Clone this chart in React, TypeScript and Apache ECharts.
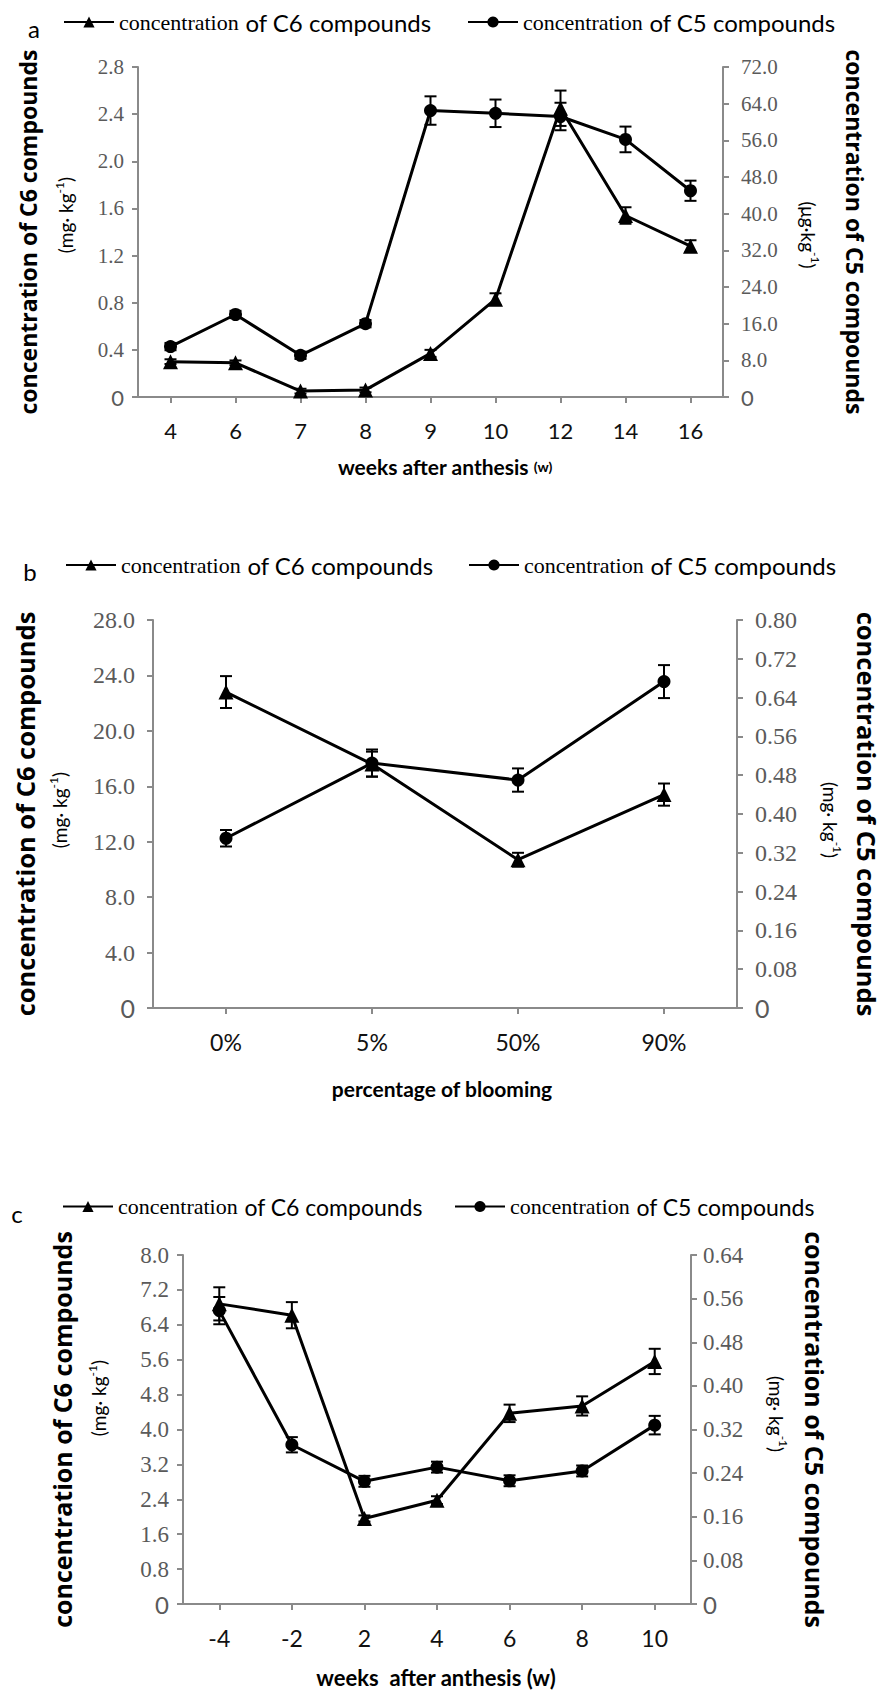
import React, { useEffect, useRef } from "react";
import * as echarts from "echarts";

// ---------- data ----------
const aWeeks = ["4", "6", "7", "8", "9", "10", "12", "14", "16"];
const aC6 = [0.3, 0.29, 0.05, 0.06, 0.37, 0.83, 2.45, 1.54, 1.28];
const aC6Err = [0.02, 0.02, 0.02, 0.02, 0.03, 0.05, 0.15, 0.07, 0.05];
const aC5 = [11.0, 18.0, 9.1, 16.0, 62.5, 61.9, 61.2, 56.2, 45.0];
const aC5Err = [0.8, 0.8, 0.8, 0.8, 3.1, 3.0, 3.0, 2.8, 2.2];

const bCats = ["0%", "5%", "50%", "90%"];
const bC6 = [22.8, 17.6, 10.7, 15.4];
const bC6Err = [1.15, 0.9, 0.5, 0.8];
const bC5 = [0.35, 0.505, 0.47, 0.673];
const bC5Err = [0.017, 0.028, 0.024, 0.034];

const cWeeks = ["-4", "-2", "2", "4", "6", "8", "10"];
const cC6 = [6.88, 6.62, 1.96, 2.38, 4.37, 4.54, 5.56];
const cC6Err = [0.38, 0.3, 0.07, 0.09, 0.2, 0.22, 0.29];
const cC5 = [0.538, 0.292, 0.225, 0.251, 0.226, 0.244, 0.328];
const cC5Err = [0.025, 0.014, 0.01, 0.01, 0.01, 0.01, 0.017];

const SERIF = '"Liberation Serif", "Times New Roman", serif';
const SANS = 'Lato, "Open Sans", sans-serif';
const BOLD = '"Open Sans", sans-serif';
const AXIS = "#8a8a8a";
const LABEL = "#5a5a5a";

type Panel = {
  key: string;
  letter: string;
  cats: string[];
  c6: number[];
  c6e: number[];
  c5: number[];
  c5e: number[];
  left: number;
  right: number;
  top: number;
  bottom: number;
  lMax: number;
  lInt: number;
  lDec: number;
  rMax: number;
  rInt: number;
  rDec: number;
  yFont: number;
  xFont: number;
  xMargin: number;
  lMargin: number;
  rMargin: number;
  legY: number;
  letterX: number;
  leg1X: number;
  leg2X: number;
  legFontS: number;
  legFontN: number;
  titleFont: number;
  lTitleX: number;
  lUnitX: number;
  rUnitX: number;
  rTitleX: number;
  lUnit: string;
  rUnit: string;
  lUnitY: number;
  rUnitY: number;
  xTitle: string;
  xTitleX: number;
  xTitleY: number;
  xTitleFont: number;
};

const panels: Panel[] = [
  {
    key: "a", letter: "a", cats: aWeeks, c6: aC6, c6e: aC6Err, c5: aC5, c5e: aC5Err,
    left: 138, right: 723, top: 67, bottom: 397,
    lMax: 2.8, lInt: 0.4, lDec: 1, rMax: 72, rInt: 8, rDec: 1,
    yFont: 21, xFont: 22, xMargin: 22, lMargin: 14, rMargin: 18,
    legY: 20, letterX: 34, leg1X: 58, leg2X: 462, legFontS: 22, legFontN: 24,
    titleFont: 23, lTitleX: 28, lUnitX: 64, rUnitX: 810, rTitleX: 855,
    lUnit: "{n|(mg· kg}{s|-1}{n|)}", rUnit: "{n|(μg·kg}{s|-1}{n|)}",
    lUnitY: 215, rUnitY: 235,
    xTitle: "{t|weeks after anthesis }{w|(w)}", xTitleX: 445, xTitleY: 466, xTitleFont: 21,
  },
  {
    key: "b", letter: "b", cats: bCats, c6: bC6, c6e: bC6Err, c5: bC5, c5e: bC5Err,
    left: 153, right: 737, top: 620, bottom: 1008,
    lMax: 28, lInt: 4, lDec: 1, rMax: 0.8, rInt: 0.08, rDec: 2,
    yFont: 24, xFont: 23, xMargin: 22, lMargin: 18, rMargin: 18,
    legY: 563, letterX: 30, leg1X: 60, leg2X: 463, legFontS: 22, legFontN: 24,
    titleFont: 25.5, lTitleX: 25, lUnitX: 58, rUnitX: 832, rTitleX: 867,
    lUnit: "{n|(mg· kg}{s|-1}{n|)}", rUnit: "{n|(mg· kg}{s|-1}{n|)}",
    lUnitY: 810, rUnitY: 820,
    xTitle: "{t|percentage of blooming}", xTitleX: 442, xTitleY: 1088, xTitleFont: 21,
  },
  {
    key: "c", letter: "c", cats: cWeeks, c6: cC6, c6e: cC6Err, c5: cC5, c5e: cC5Err,
    left: 183, right: 691, top: 1255, bottom: 1604,
    lMax: 8, lInt: 0.8, lDec: 1, rMax: 0.64, rInt: 0.08, rDec: 2,
    yFont: 23, xFont: 23, xMargin: 22, lMargin: 14, rMargin: 12,
    legY: 1205, letterX: 17, leg1X: 57, leg2X: 449, legFontS: 22, legFontN: 23,
    titleFont: 25, lTitleX: 62, lUnitX: 97, rUnitX: 778, rTitleX: 815,
    lUnit: "{n|(mg· kg}{s|-1}{n|)}", rUnit: "{n|(mg· kg}{s|-1}{n|)}",
    lUnitY: 1398, rUnitY: 1414,
    xTitle: "{t|weeks  after anthesis (w)}", xTitleX: 436, xTitleY: 1677, xTitleFont: 22,
  },
];

function errRender(params: any, api: any) {
  const i = api.value(0);
  const v = api.value(1);
  const e = api.value(2);
  const p1 = api.coord([i, v + e]);
  const p2 = api.coord([i, v - e]);
  const w = 6;
  const style = { stroke: "#000", lineWidth: 2 };
  return {
    type: "group",
    children: [
      { type: "line", shape: { x1: p1[0], y1: p1[1], x2: p2[0], y2: p2[1] }, style },
      { type: "line", shape: { x1: p1[0] - w, y1: p1[1], x2: p1[0] + w, y2: p1[1] }, style },
      { type: "line", shape: { x1: p2[0] - w, y1: p2[1], x2: p2[0] + w, y2: p2[1] }, style },
    ],
  };
}

function buildOption() {
  const grid: any[] = [];
  const xAxis: any[] = [];
  const yAxis: any[] = [];
  const series: any[] = [];
  const legend: any[] = [];
  const graphic: any[] = [];

  panels.forEach((p, pi) => {
    grid.push({ left: p.left, top: p.top, width: p.right - p.left, height: p.bottom - p.top });
    xAxis.push({
      type: "category",
      gridIndex: pi,
      data: p.cats,
      boundaryGap: true,
      axisLine: { show: true, lineStyle: { color: AXIS, width: 2 } },
      axisTick: { show: true, alignWithLabel: true, length: 6, lineStyle: { color: AXIS, width: 2 } },
      axisLabel: { color: "#111", fontFamily: SANS, fontSize: p.xFont, margin: p.xMargin },
      splitLine: { show: false },
    });
    const fmt = (dec: number) => (v: number) => (Math.abs(v) < 1e-9 ? "{z|0}" : v.toFixed(dec));
    const yCommon = (pos: string, max: number, int: number, dec: number, margin: number) => ({
      type: "value",
      gridIndex: pi,
      position: pos,
      min: 0,
      max,
      interval: int,
      axisLine: { show: true, lineStyle: { color: AXIS, width: 2 } },
      axisTick: { show: true, length: 6, lineStyle: { color: AXIS, width: 2 } },
      splitLine: { show: false },
      axisLabel: {
        color: LABEL,
        fontFamily: SERIF,
        fontSize: p.yFont,
        margin,
        formatter: fmt(dec),
        rich: { z: { fontFamily: SANS, fontSize: p.yFont + 1, color: LABEL } },
      },
    });
    const lIdx = yAxis.length;
    yAxis.push(yCommon("left", p.lMax, p.lInt, p.lDec, p.lMargin));
    const rIdx = yAxis.length;
    yAxis.push(yCommon("right", p.rMax, p.rInt, p.rDec, p.rMargin));

    const n6 = p.key + "-C6";
    const n5 = p.key + "-C5";
    series.push({
      name: n6,
      type: "line",
      xAxisIndex: pi,
      yAxisIndex: lIdx,
      data: p.c6,
      symbol: "triangle",
      symbolSize: 15,
      itemStyle: { color: "#000" },
      lineStyle: { color: "#000", width: 3 },
      z: 3,
    });
    series.push({
      name: n5,
      type: "line",
      xAxisIndex: pi,
      yAxisIndex: rIdx,
      data: p.c5,
      symbol: "circle",
      symbolSize: 13,
      itemStyle: { color: "#000" },
      lineStyle: { color: "#000", width: 3 },
      z: 3,
    });
    series.push({
      type: "custom",
      xAxisIndex: pi,
      yAxisIndex: lIdx,
      data: p.c6.map((v, i) => [i, v, p.c6e[i]]),
      renderItem: errRender,
      encode: { x: 0, y: 1 },
      z: 2,
    });
    series.push({
      type: "custom",
      xAxisIndex: pi,
      yAxisIndex: rIdx,
      data: p.c5.map((v, i) => [i, v, p.c5e[i]]),
      renderItem: errRender,
      encode: { x: 0, y: 1 },
      z: 2,
    });

    const legRich = {
      s: { fontFamily: SERIF, fontSize: p.legFontS, color: "#000" },
      n: { fontFamily: SANS, fontSize: p.legFontN, color: "#000" },
    };
    [
      [n6, p.leg1X, "C6"],
      [n5, p.leg2X, "C5"],
    ].forEach(([name, x, lab]) => {
      legend.push({
        data: [name],
        left: x,
        top: p.legY - 15,
        itemWidth: 50,
        itemHeight: 14,
        itemGap: 0,
        selectedMode: false,
        formatter: () => `{s|concentration}  {n|of ${lab} compounds}`,
        textStyle: { rich: legRich },
      });
    });

    graphic.push({
      type: "text",
      x: p.letterX,
      y: p.legY + 8,
      style: { text: p.letter, fontFamily: SANS, fontSize: 24, fill: "#000", align: "center", verticalAlign: "middle" },
    });
    const midY = (p.top + p.bottom) / 2;
    graphic.push({
      type: "text",
      x: p.lTitleX,
      y: midY,
      rotation: Math.PI / 2,
      style: {
        text: "concentration of C6 compounds",
        fontFamily: BOLD,
        fontWeight: "bold",
        fontSize: p.titleFont,
        fill: "#000",
        align: "center",
        verticalAlign: "middle",
      },
    });
    graphic.push({
      type: "text",
      x: p.rTitleX,
      y: midY,
      rotation: -Math.PI / 2,
      style: {
        text: "concentration of C5 compounds",
        fontFamily: BOLD,
        fontWeight: "bold",
        fontSize: p.titleFont,
        fill: "#000",
        align: "center",
        verticalAlign: "middle",
      },
    });
    const unitRich = {
      n: { fontFamily: SANS, fontSize: 19, color: "#000", lineHeight: 22, verticalAlign: "bottom" },
      s: { fontFamily: SANS, fontSize: 12, color: "#000", lineHeight: 22, verticalAlign: "top" },
    };
    graphic.push({
      type: "text",
      x: p.lUnitX,
      y: p.lUnitY,
      rotation: Math.PI / 2,
      style: { text: p.lUnit, rich: unitRich, align: "center", verticalAlign: "middle" },
    });
    graphic.push({
      type: "text",
      x: p.rUnitX,
      y: p.rUnitY,
      rotation: -Math.PI / 2,
      style: { text: p.rUnit, rich: unitRich, align: "center", verticalAlign: "middle" },
    });
    graphic.push({
      type: "text",
      x: p.xTitleX,
      y: p.xTitleY,
      style: {
        text: p.xTitle,
        align: "center",
        verticalAlign: "middle",
        rich: {
          t: { fontFamily: SANS, fontWeight: "bold", fontSize: p.xTitleFont, color: "#000" },
          w: { fontFamily: SANS, fontWeight: "bold", fontSize: 14, color: "#000" },
        },
      },
    });
  });

  return {
    animation: false,
    backgroundColor: "#fff",
    grid,
    xAxis,
    yAxis,
    series,
    legend,
    graphic,
  };
}

export default function App() {
  const ref = useRef<HTMLDivElement>(null);
  useEffect(() => {
    document.body.style.margin = "0";
    if (!ref.current) return;
    const chart = echarts.init(ref.current, undefined, { renderer: "svg" });
    chart.setOption(buildOption() as any);
    return () => chart.dispose();
  }, []);
  return <div ref={ref} style={{ width: 886, height: 1695 }} />;
}
